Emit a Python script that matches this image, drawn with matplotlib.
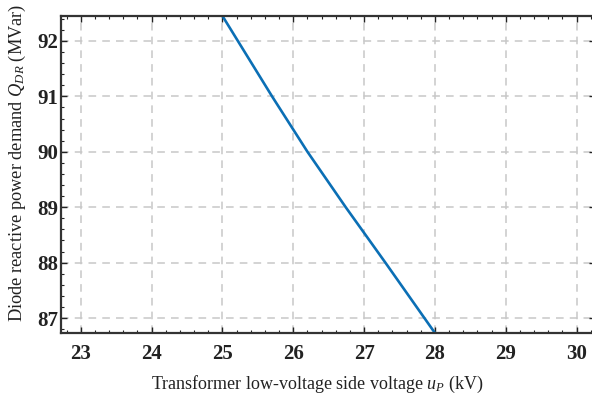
import numpy as np
import matplotlib
matplotlib.use('Agg')
from matplotlib import pyplot as plt
from matplotlib.ticker import MultipleLocator

# data
u_p = [25.0, 25.70, 26.20, 26.74, 27.30, 28.0]
q_dr = [92.45, 91.0, 90.0, 89.0, 88.0, 86.73]
xticks = [23, 24, 25, 26, 27, 28, 29, 30]
yticks = [87, 88, 89, 90, 91, 92]

plt.rcParams['font.family'] = ['Liberation Serif', 'DejaVu Serif']
plt.rcParams['mathtext.fontset'] = 'custom'
plt.rcParams['mathtext.it'] = 'Liberation Serif:italic'
plt.rcParams['mathtext.rm'] = 'Liberation Serif'

fig = plt.figure(figsize=(5.92, 3.99), dpi=100)
ax = fig.add_axes([61/592, 66/399, 534/592, 317/399])

ax.plot(u_p, q_dr, color='#0b6fb5', lw=1.9, clip_on=True)

ax.set_xlim(22.72, 30.26)
ax.set_ylim(86.73, 92.45)
ax.set_xticks(xticks)
ax.set_yticks(yticks)
ax.xaxis.set_minor_locator(MultipleLocator(0.2))
ax.yaxis.set_minor_locator(MultipleLocator(0.2))

ax.grid(True, which='major', ls=(0, (5, 4)), color='#c8c8c8', lw=1.1)
ax.tick_params(which='both', direction='in', top=True, right=True, color='#222222')
ax.tick_params(which='major', length=4, width=1)
ax.tick_params(which='minor', length=2, width=0.8)
ax.tick_params(axis='both', labelsize=15, labelcolor='#222222')
ax.tick_params(axis='x', pad=8)
ax.tick_params(axis='y', pad=2)
for lab in ax.get_xticklabels() + ax.get_yticklabels():
    lab.set_fontweight('bold')

for s in ax.spines.values():
    s.set_color('#333333')
    s.set_linewidth(1.6)

ax.set_xlabel('Transformer low-voltage side voltage $u_{P}$ (kV)', fontsize=13, color='#222222')
ax.set_ylabel('Diode reactive power demand $Q_{DR}$ (MVar)', fontsize=13.2, color='#222222')
ax.xaxis.set_label_coords(0.481, -0.128)
ax.yaxis.set_label_coords(-0.062, 0.536)

fig.savefig('out.png', dpi=100)
